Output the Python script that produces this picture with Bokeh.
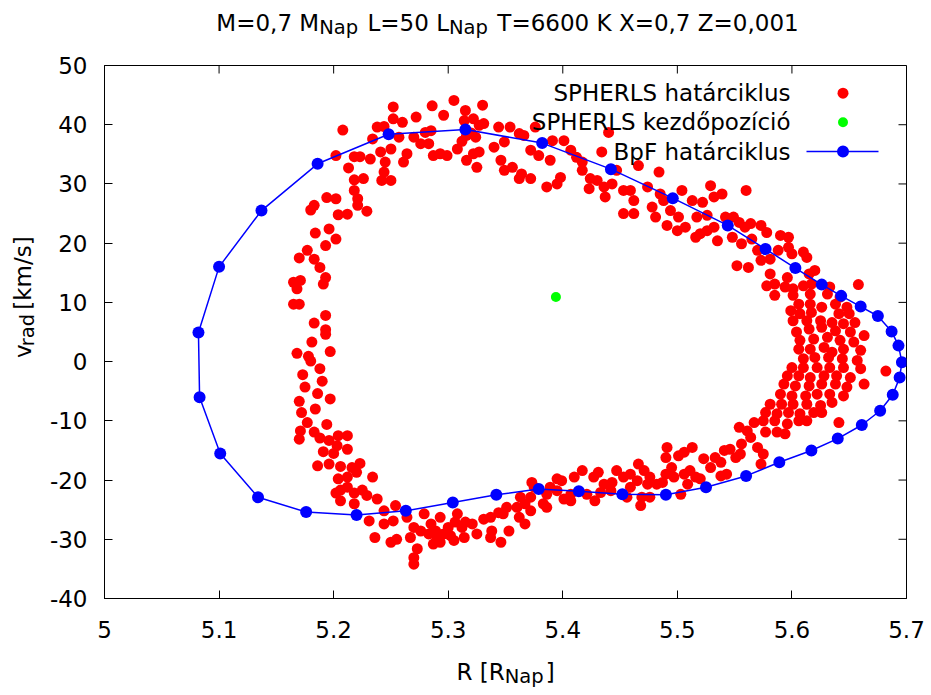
from bokeh.plotting import figure
from bokeh.models import Range1d, FixedTicker, Label
from bokeh.layouts import column, row
from bokeh.embed import file_html
from bokeh.resources import INLINE

# ---------------- data ----------------
x_ticks = [5.0, 5.1, 5.2, 5.3, 5.4, 5.5, 5.6, 5.7]
x_tick_labels = ["5", "5.1", "5.2", "5.3", "5.4", "5.5", "5.6", "5.7"]
y_ticks = [-40, -30, -20, -10, 0, 10, 20, 30, 40, 50]
y_tick_labels = ["-40", "-30", "-20", "-10", "0", "10", "20", "30", "40", "50"]

# SPHERLS limit cycle (red points), by part of the loop
sph_r_upleft = [5.252,5.286,5.208,5.272,5.252,5.260,5.238,5.244,5.234,5.257,5.270,5.280,5.276,5.283,5.287,5.202,5.218,5.223,5.241,5.250,5.232,5.245,5.264,5.261,5.213,5.244,5.218,5.226,5.242,5.250,5.218,5.221,5.194,5.202,5.183,5.180,5.204,5.212,5.221,5.229,5.184,5.196,5.202,5.193,5.177,5.170,5.183,5.188,5.193,5.191,5.165,5.171,5.168,5.165,5.170,5.193,5.183,5.193]
sph_v_upleft = [43.0,43.2,39.1,41.3,41.0,40.4,39.6,39.7,37.6,37.9,37.9,38.7,36.8,36.8,34.8,34.8,34.6,34.6,35.4,35.9,34.2,33.7,35.1,33.7,32.7,32.0,30.7,30.9,30.6,30.6,28.9,27.5,27.7,27.5,26.4,25.6,24.8,24.9,26.4,25.4,21.7,22.4,20.7,19.6,18.8,17.5,17.3,15.9,14.2,13.1,13.4,13.7,12.3,9.7,9.7,7.8,6.5,5.4]

sph_r_top = [5.285,5.296,5.293,5.299,5.305,5.315,5.314,5.322,5.327,5.331,5.330,5.316,5.324,5.308,5.316,5.322,5.327,5.325,5.340,5.344,5.354,5.349,5.346,5.349,5.362,5.366,5.372,5.376,5.379,5.389,5.391,5.401,5.364,5.362,5.372,5.386,5.395,5.398,5.356,5.320,5.312]
sph_v_top = [39.0,41.6,35.1,34.8,44.1,42.4,40.7,41.0,39.9,40.2,43.3,38.2,37.9,35.9,34.0,35.1,35.4,32.8,36.2,39.6,39.6,37.1,34.0,32.3,38.5,38.2,35.7,39.6,34.8,34.0,37.3,37.3,31.7,30.9,30.9,29.5,30.0,31.1,32.8,38.6,37.2]

sph_r_topright = [5.407,5.412,5.417,5.417,5.424,5.423,5.430,5.436,5.437,5.443,5.440,5.434,5.447,5.453,5.459,5.462,5.453,5.462,5.466,5.474,5.484,5.478,5.485,5.488,5.494,5.491,5.501,5.500,5.481]
sph_v_topright = [35.7,34.5,33.7,32.3,30.9,29.2,30.6,29.5,27.8,30.0,38.7,35.4,32.3,28.9,28.9,27.2,25.0,25.0,33.1,29.5,32.0,26.1,28.3,27.2,25.5,23.0,24.4,22.1,24.4]

sph_r_right = [5.504,5.507,5.513,5.522,5.529,5.532,5.539,5.560,5.517,5.526,5.520,5.516,5.526,5.532,5.535,5.542,5.549,5.554,5.559,5.564,5.573,5.578,5.590,5.597,5.548,5.556,5.565,5.570,5.552,5.562,5.573,5.581,5.588,5.597,5.600,5.610,5.613,5.581,5.596,5.615,5.620]
sph_v_right = [28.9,22.7,27.2,26.9,29.7,27.8,28.3,28.9,24.4,24.7,21.6,21.0,22.1,22.7,20.4,24.4,24.4,23.5,22.7,23.3,23.0,21.8,21.3,21.0,21.0,19.9,20.7,18.8,16.2,15.9,17.1,17.3,18.8,19.3,18.2,18.5,17.6,14.8,14.2,14.8,15.4]

sph_r_tip = [5.578,5.585,5.594,5.601,5.610,5.617,5.633,5.658,5.585,5.601,5.616,5.631,5.642,5.606,5.616,5.638,5.648,5.599,5.607,5.617,5.626,5.641,5.650,5.601,5.613,5.625,5.635,5.645,5.655,5.604,5.615,5.626,5.638,5.651,5.663,5.607,5.619,5.631,5.642,5.654,5.606,5.616,5.628,5.635,5.645,5.660,5.610,5.620,5.632,5.644,5.657,5.682,5.600,5.610,5.622,5.633,5.645,5.660,5.596,5.606,5.616,5.628,5.639,5.651,5.663,5.593,5.603,5.615,5.626,5.638,5.648,5.590,5.600,5.612,5.622,5.633,5.645,5.581,5.591,5.601,5.613,5.625,5.635,5.577,5.587,5.597,5.607,5.619,5.626,5.575,5.585,5.596,5.606,5.613,5.641,5.577,5.587,5.594]
sph_v_tip = [12.8,13.1,12.6,12.3,12.8,13.1,12.6,13.0,11.2,11.2,11.4,11.4,10.9,9.7,9.7,9.7,9.2,8.6,8.1,8.3,9.2,8.1,8.1,6.9,6.9,6.9,6.6,6.4,6.6,5.0,5.5,5.8,5.2,5.0,4.4,3.6,3.8,4.1,3.6,3.3,2.1,2.1,2.4,1.6,2.1,1.9,0.5,0.7,0.7,0.5,0.2,-1.6,-1.0,-1.0,-1.0,-1.0,-1.0,-1.2,-2.4,-2.4,-2.7,-2.4,-2.4,-2.7,-3.8,-3.8,-4.1,-4.1,-3.8,-3.8,-4.3,-5.5,-5.8,-5.8,-5.5,-5.5,-5.8,-7.2,-7.2,-7.2,-7.2,-7.4,-6.9,-8.6,-8.8,-8.6,-8.8,-8.6,-8.6,-10.0,-10.0,-10.5,-10.0,-10.0,-10.3,-11.9,-11.9,-12.2]

sph_r_lowright = [5.491,5.490,5.501,5.506,5.513,5.495,5.490,5.487,5.497,5.506,5.511,5.516,5.509,5.503,5.520,5.523,5.529,5.533,5.538,5.541,5.546,5.551,5.555,5.543,5.538,5.554,5.561,5.567,5.564,5.556,5.570,5.573,5.575]
sph_v_lowright = [-14.5,-16.2,-15.9,-15.3,-14.5,-17.9,-19.0,-20.4,-19.5,-19.0,-18.4,-19.5,-20.7,-22.4,-19.8,-16.4,-17.9,-16.2,-17.0,-15.0,-14.8,-16.2,-15.6,-19.0,-19.3,-11.1,-11.7,-10.3,-12.8,-13.9,-14.5,-17.3,-15.6]

sph_r_bottom = [5.466,5.417,5.410,5.395,5.399,5.431,5.427,5.447,5.453,5.436,5.443,5.459,5.471,5.476,5.465,5.474,5.482,5.459,5.456,5.469,5.468,5.476,5.442,5.433,5.421,5.428,5.407,5.401,5.395,5.389,5.386,5.373,5.375,5.372,5.363,5.367,5.360,5.362,5.367,5.383,5.386,5.407,5.372,5.351,5.348,5.344,5.337,5.338,5.331,5.337,5.346,5.353,5.321,5.315,5.312,5.308,5.306,5.300,5.302,5.296,5.293,5.287,5.289,5.290,5.293,5.305,5.314,5.325,5.285]
sph_v_bottom = [-17.3,-18.4,-19.5,-19.8,-20.1,-18.7,-19.5,-18.4,-19.5,-20.7,-20.4,-19.0,-18.4,-19.5,-20.1,-20.7,-20.7,-21.2,-22.9,-22.9,-24.3,-22.9,-21.8,-22.1,-22.4,-23.5,-22.4,-23.2,-21.8,-21.2,-22.4,-20.4,-21.2,-22.9,-22.9,-24.0,-24.6,-26.3,-27.4,-24.0,-24.6,-23.5,-25.2,-24.6,-25.7,-25.5,-26.3,-28.6,-26.6,-29.7,-30.5,-28.6,-27.4,-27.1,-28.0,-25.7,-27.1,-28.0,-29.4,-29.1,-30.5,-30.8,-28.6,-30.0,-26.3,-30.2,-29.7,-29.1,-27.4]

sph_r_lowleft = [5.193,5.181,5.168,5.197,5.180,5.188,5.173,5.175,5.186,5.197,5.170,5.177,5.194,5.171,5.170,5.183,5.188,5.196,5.204,5.212,5.203,5.212,5.191,5.200,5.186,5.196,5.206,5.216,5.223,5.220,5.204,5.212,5.234,5.202,5.206,5.212,5.218,5.225,5.229,5.238,5.206,5.218,5.244,5.254,5.231,5.244,5.252,5.264,5.279,5.270,5.236,5.250,5.255,5.267,5.276,5.283,5.273,5.270,5.270,5.178,5.190,5.172,5.184]
sph_v_lowleft = [4.6,3.3,1.4,1.7,0.1,-1.2,-2.2,-4.3,-5.4,-6.3,-6.7,-10.3,-10.6,-11.7,-13.1,-11.9,-12.9,-13.3,-12.5,-12.5,-14.2,-14.8,-15.2,-15.5,-17.6,-17.3,-17.7,-17.9,-17.2,-18.7,-19.8,-19.5,-19.5,-22.2,-21.7,-21.2,-22.2,-21.7,-22.6,-23.2,-23.5,-24.0,-25.2,-24.3,-26.9,-27.4,-26.9,-26.3,-25.7,-28.0,-29.7,-30.5,-30.0,-29.7,-28.6,-29.1,-31.6,-33.1,-34.2,0.9,-3.3,-8.6,-8.0]

# SPHERLS starting position (green)
start_r = [5.394]
start_v = [10.9]

# BpF limit cycle (blue)
bpf_r = [5.186,5.137,5.100,5.082,5.083,5.101,5.134,5.176,5.220,5.263,5.304,5.342,5.379,5.414,5.452,5.490,5.525,5.560,5.589,5.617,5.640,5.661,5.677,5.688,5.694,5.696,5.693,5.687,5.675,5.660,5.643,5.626,5.603,5.577,5.544,5.496,5.442,5.382,5.315,5.248]
bpf_v = [33.4,25.5,16.0,4.9,-6.0,-15.5,-22.9,-25.4,-25.9,-25.2,-23.8,-22.5,-21.5,-21.9,-22.4,-22.5,-21.2,-19.3,-17.0,-15.0,-13.0,-10.7,-8.3,-5.6,-2.7,-0.1,2.7,5.1,7.7,9.3,11.1,13.0,15.8,19.0,23.0,27.6,32.5,36.9,39.2,38.4]

title_parts = [("M=0,7 M", False), ("Nap", True), (" L=50 L", False), ("Nap", True), (" T=6600 K X=0,7 Z=0,001", False)]
xlabel_parts = [("R [R", False), ("Nap", True), ("]", False)]
ylabel_parts = [("v", False), ("rad", True), (" [km/s]", False)]
legend_labels = ["SPHERLS határciklus", "SPHERLS kezdőpozíció", "BpF határciklus"]

# ---------------- layout / style ----------------
FONT = "DejaVu Sans"
FS = 23.0
SUB = 0.85
DROP = 4.5
SUB_GAP_AFTER = 2.0
W, H = 931, 695                 # whole page
FL, FT, FW, FH = 104, 65, 802, 533   # plot frame in page pixels
TOP_H = 44                      # title strip
LEFT_W = 46                     # y-label strip
BOT_H = 40                      # x-label strip
MAIN_W = W - LEFT_W
MAIN_H = H - TOP_H - BOT_H
XR = (5.0, 5.7)
YR = (-40.0, 50.0)
RED, GREEN, BLUE = "#ff0000", "#00ff00", "#0000ff"
TXT = "#000000"
TICK_PX = 8

ADV = {' ': 651, ',': 651, '.': 651, '/': 690, '=': 1716, 'K': 1343, 'L': 1141, 'M': 1767,
       'N': 1532, 'R': 1423, 'T': 1251, 'X': 1401, 'Z': 1401, '[': 799, ']': 799, 'a': 1255,
       'd': 1300, 'k': 1186, 'm': 1995, 'p': 1300, 'r': 842, 's': 1067, 'v': 1212}
for d in "0123456789":
    ADV[d] = 1303


def tw(s, size):
    return sum(ADV.get(c, 1200) for c in s) / 2048.0 * size


def to_screen(cx, cy):
    return cx - FL, (FT + FH) - cy


def to_data(cx, cy):
    r = XR[0] + (cx - FL) / FW * (XR[1] - XR[0])
    v = YR[1] - (cy - FT) / FH * (YR[1] - YR[0])
    return r, v


# ---------------- main plot ----------------
p = figure(width=MAIN_W, height=MAIN_H, output_backend="svg", toolbar_location=None,
           x_range=Range1d(*XR), y_range=Range1d(*YR),
           min_border_left=FL - LEFT_W, min_border_right=W - FL - FW,
           min_border_top=FT - TOP_H, min_border_bottom=MAIN_H - (FT - TOP_H) - FH)
p.title.text = ""
p.grid.visible = False
p.background_fill_color = "white"
p.border_fill_color = "white"
p.outline_line_color = "black"
p.outline_line_width = 1


def style_axis(ax, ticks, labels, standoff):
    ax.ticker = FixedTicker(ticks=ticks)
    ax.major_label_overrides = {t: l for t, l in zip(ticks, labels)}
    ax.major_tick_in = TICK_PX
    ax.major_tick_out = 0
    ax.minor_tick_line_color = None
    ax.axis_line_color = "black"
    ax.major_tick_line_color = "black"
    ax.major_label_text_font = FONT
    ax.major_label_text_font_size = f"{FS}px"
    ax.major_label_text_color = TXT
    ax.major_label_standoff = standoff
    ax.axis_label = None


style_axis(p.xaxis[0], x_ticks, x_tick_labels, 22)
style_axis(p.yaxis[0], y_ticks, y_tick_labels, 17)

# mirrored inward ticks on the top and right border (gnuplot style)
dv = TICK_PX / FH * (YR[1] - YR[0])
dr = TICK_PX / FW * (XR[1] - XR[0])
p.segment(x0=x_ticks, y0=[YR[1]] * len(x_ticks), x1=x_ticks, y1=[YR[1] - dv] * len(x_ticks),
          line_color="black", line_width=1)
p.segment(x0=[XR[1]] * len(y_ticks), y0=y_ticks, x1=[XR[1] - dr] * len(y_ticks), y1=y_ticks,
          line_color="black", line_width=1)

red_parts = [(sph_r_upleft, sph_v_upleft), (sph_r_top, sph_v_top), (sph_r_topright, sph_v_topright),
             (sph_r_right, sph_v_right), (sph_r_tip, sph_v_tip), (sph_r_lowright, sph_v_lowright),
             (sph_r_bottom, sph_v_bottom), (sph_r_lowleft, sph_v_lowleft)]
red_r = [r for rs, vs in red_parts for r in rs]
red_v = [v for rs, vs in red_parts for v in vs]
p.scatter(red_r, red_v, size=11, fill_color=RED, line_color=None)
p.scatter(start_r, start_v, size=10, fill_color=GREEN, line_color=None)
p.line(bpf_r + bpf_r[:1], bpf_v + bpf_v[:1], line_color=BLUE, line_width=1.5)
p.scatter(bpf_r, bpf_v, size=12, fill_color=BLUE, line_color=None)

# legend (gnuplot style: text right-aligned, sample to the right)
leg_rows_cy = [92.7, 121.7, 151.0]
leg_text_cx = 790
leg_mark_cx = 842.5
leg_line_cx = (806, 878)
for lab, cy in zip(legend_labels, leg_rows_cy):
    sx, sy = to_screen(leg_text_cx, cy)
    p.add_layout(Label(x=sx, y=sy, x_units="screen", y_units="screen", text=lab,
                       text_font=FONT, text_font_size=f"{FS}px", text_color=TXT,
                       text_align="right", text_baseline="middle"))
r0, v0 = to_data(leg_mark_cx, leg_rows_cy[0])
p.scatter([r0], [v0], size=11, fill_color=RED, line_color=None)
r1, v1 = to_data(leg_mark_cx, leg_rows_cy[1])
p.scatter([r1], [v1], size=10, fill_color=GREEN, line_color=None)
la, v2 = to_data(leg_line_cx[0], leg_rows_cy[2])
lb, _ = to_data(leg_line_cx[1], leg_rows_cy[2])
r2, _ = to_data(leg_mark_cx, leg_rows_cy[2])
p.line([la, lb], [v2, v2], line_color=BLUE, line_width=1.5)
p.scatter([r2], [v2], size=12, fill_color=BLUE, line_color=None)


# ---------------- text strips (title, axis labels with subscripts) ----------------
def text_fig(w, h):
    f = figure(width=w, height=h, output_backend="svg", toolbar_location=None,
               x_range=Range1d(0, w), y_range=Range1d(0, h),
               x_axis_location=None, y_axis_location=None,
               min_border=0, min_border_left=0, min_border_right=0,
               min_border_top=0, min_border_bottom=0)
    f.title.text = ""
    f.grid.visible = False
    f.outline_line_color = None
    f.background_fill_color = "white"
    f.border_fill_color = "white"
    return f


def seg_width(t, s, size):
    w = tw(t, size * SUB if s else size)
    return w + SUB_GAP_AFTER if s else w


def rich(f, h, parts, lx, ly, size, vertical=False):
    """Place text segments with subscripts; (lx, ly) = centre/anchor in strip pixels (y down)."""
    total = sum(seg_width(t, s, size) for t, s in parts)
    x0, y0 = lx, h - ly
    pos = -total / 2.0
    for t, s in parts:
        fs = size * SUB if s else size
        stripped = t.lstrip(" ")
        pos += tw(t[:len(t) - len(stripped)], fs)
        if vertical:
            x, y, ang = x0 + (DROP if s else 0), y0 + pos, 1.5707963267948966
        else:
            x, y, ang = x0 + pos, y0 - (DROP if s else 0), 0.0
        f.add_layout(Label(x=x, y=y, text=stripped, angle=ang, text_font=FONT,
                           text_font_size=f"{fs:.2f}px", text_color=TXT,
                           text_align="left", text_baseline="alphabetic"))
        pos += tw(stripped, fs)
        if s:
            pos += SUB_GAP_AFTER


top_fig = text_fig(W, TOP_H)
rich(top_fig, TOP_H, title_parts, 507, 22.7, FS)

left_fig = text_fig(LEFT_W, MAIN_H)
rich(left_fig, MAIN_H, ylabel_parts, 22, 315 - TOP_H, FS, vertical=True)

bot_fig = text_fig(W, BOT_H)
rich(bot_fig, BOT_H, xlabel_parts, 505, 671 - (H - BOT_H), FS)

layout = column(top_fig, row(left_fig, p, spacing=0), bot_fig, spacing=0)
open("out.html", "w").write(file_html(layout, INLINE))
